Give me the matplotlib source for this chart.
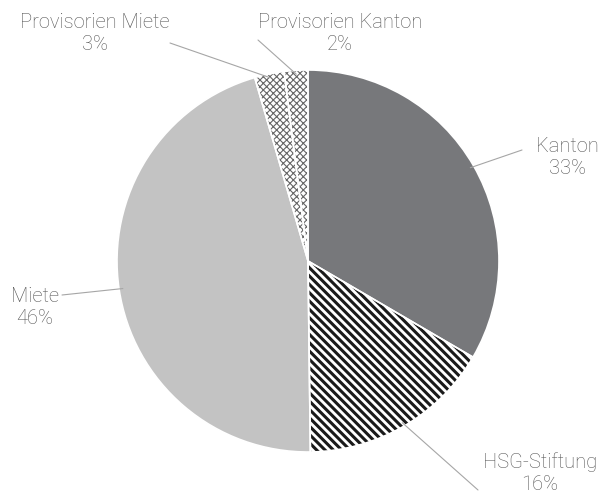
import numpy as np
import matplotlib
matplotlib.use('Agg')
import matplotlib.pyplot as plt

# Finanzierung nach Trägerschaft (Anteile in %)
labels = ['Kanton', 'HSG-Stiftung', 'Miete', 'Provisorien Miete', 'Provisorien Kanton']
values = [33.4, 16.4, 45.7, 2.5, 2.0]
pct_text = ['33%', '16%', '46%', '3%', '2%']

face_colors = ['#77787b', 'white', '#c3c3c3', 'white', 'white']
hatches = [None, '\\\\\\\\', None, 'xxxxx', 'xxxxx']
hatch_colors = ['#77787b', '#1a1a1a', '#c3c3c3', '#666666', '#666666']
hatch_lw = [0.0, 2.2, 0.0, 0.8, 0.8]

# Label-Positionen (Pixel im Bild, Ursprung oben links)
label_pos = [(567, 157), (540, 473), (35, 308), (95, 34), (340, 34)]
line_end = [(522, 150), (478, 490), (62, 295), (170, 43), (258, 40)]

W, H = 612, 493
fig = plt.figure(figsize=(W / 100, H / 100), dpi=100)
ax = fig.add_axes([117 / W, 41 / H, 382 / W, 382 / H])

wedges = []
start = 90.0
total = sum(values)
for i, v in enumerate(values):
    plt.rcParams['hatch.linewidth'] = max(hatch_lw[i], 0.1)
    w, _ = ax.pie([v, total - v], startangle=start, counterclock=False,
                  colors=[face_colors[i], 'none'], radius=1.0,
                  wedgeprops=dict(linewidth=0, edgecolor=hatch_colors[i]))
    if hatches[i]:
        w[0].set_hatch(hatches[i])
    w[1].set_visible(False)
    wedges.append(w[0])
    start -= v / total * 360

# weisse Trennlinien
sep, _ = ax.pie(values, startangle=90, counterclock=False, colors=['none'] * 5,
                wedgeprops=dict(linewidth=1.2, edgecolor='white', fill=False))

ax.set_xlim(-1, 1)
ax.set_ylim(-1, 1)
ax.set_aspect('equal')
ax.axis('off')

text_color = '#555555'
for i, w in enumerate(wedges):
    lx, ly = label_pos[i]
    ex, ey = line_end[i]
    # Leader-Linie vom Tortenrand zur Beschriftung
    ang = np.deg2rad((w.theta1 + w.theta2) / 2)
    px, py = np.cos(ang) * 0.98, np.sin(ang) * 0.98
    ax.annotate('', xy=(px, py), xycoords='data',
                xytext=(ex / W, 1 - ey / H), textcoords='figure fraction',
                arrowprops=dict(arrowstyle='-', color='#a6a6a6', lw=0.8,
                                shrinkA=0, shrinkB=0))
    fig.text(lx / W, 1 - ly / H, labels[i] + '\n' + pct_text[i],
             ha='center', va='center', fontsize=14.5, color=text_color,
             family=['Roboto', 'DejaVu Sans'], fontweight='light',
             linespacing=1.2)

fig.savefig('out.png', dpi=100)
